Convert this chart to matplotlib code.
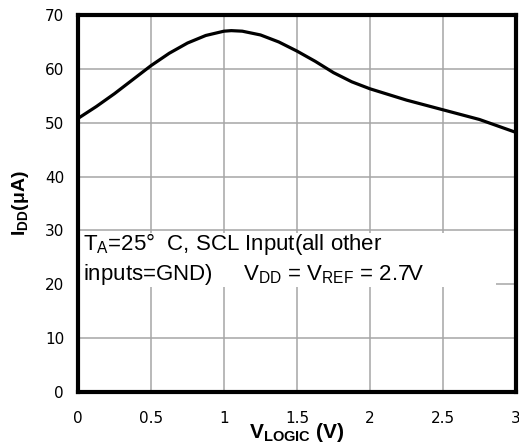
import matplotlib
matplotlib.use("Agg")
import matplotlib.pyplot as plt
from matplotlib.patches import Rectangle

plt.rcParams['font.family'] = ['Liberation Sans', 'DejaVu Sans']
plt.rcParams['mathtext.fontset'] = 'custom'
plt.rcParams['mathtext.rm'] = 'Liberation Sans'
plt.rcParams['mathtext.bf'] = 'Liberation Sans:bold'
plt.rcParams['mathtext.it'] = 'Liberation Sans:italic'

# V_LOGIC (V) vs I_DD (uA)
v_logic = [0, 0.125, 0.25, 0.375, 0.5, 0.625, 0.75, 0.875, 1.0, 1.05, 1.125,
           1.25, 1.375, 1.5, 1.625, 1.75, 1.875, 2.0, 2.25, 2.5, 2.75, 3.0]
i_dd = [50.8, 53.0, 55.4, 58.0, 60.6, 62.9, 64.8, 66.2, 67.0, 67.1, 67.0,
        66.3, 65.0, 63.3, 61.4, 59.3, 57.6, 56.3, 54.2, 52.4, 50.6, 48.2]

x_ticks = [0, 0.5, 1, 1.5, 2, 2.5, 3]
x_tick_labels = ['0', '0.5', '1', '1.5', '2', '2.5', '3']
y_ticks = [0, 10, 20, 30, 40, 50, 60, 70]

fig = plt.figure(figsize=(5.19, 4.47), dpi=100)
ax = fig.add_axes([0.1503, 0.123, 0.8439, 0.8434])

ax.plot(v_logic, i_dd, color='black', lw=2.3, zorder=3, solid_capstyle='butt')

ax.set_xlim(0, 3)
ax.set_ylim(0, 70)
ax.set_xticks(x_ticks)
ax.set_xticklabels(x_tick_labels, family='DejaVu Sans')
ax.set_yticks(y_ticks)
ax.set_yticklabels([str(v) for v in y_ticks], family='DejaVu Sans')
ax.tick_params(length=0, labelsize=11, pad=10)
ax.tick_params(axis='x', pad=14)
ax.grid(True, color='#a6a6a6', lw=1.1)
ax.set_axisbelow(True)
for s in ax.spines.values():
    s.set_linewidth(3)
    s.set_zorder(4)

ax.set_xlabel(r'$\mathbf{V_{LOGIC}}$ $\mathbf{(V)}$', fontsize=15, labelpad=-4)
ax.set_ylabel(r'$\mathbf{I_{DD}(\mu A)}$', fontsize=14, labelpad=10)

# white box over the grid behind the annotation (30 line stays visible)
ax.add_patch(Rectangle((0.004, 0.278), 0.95, 0.145, transform=ax.transAxes,
                       facecolor='white', edgecolor='none', zorder=1.5))
ax.text(0.012, 0.428,
        'T$_\\mathrm{A}$=25°  C, SCL Input(all other\ninputs=GND)     V$_\\mathrm{DD}$ = V$_\\mathrm{REF}$ = 2.7V',
        transform=ax.transAxes, fontsize=16, va='top', ha='left', linespacing=1.3,
        zorder=2)

fig.savefig('out.png', dpi=100)
